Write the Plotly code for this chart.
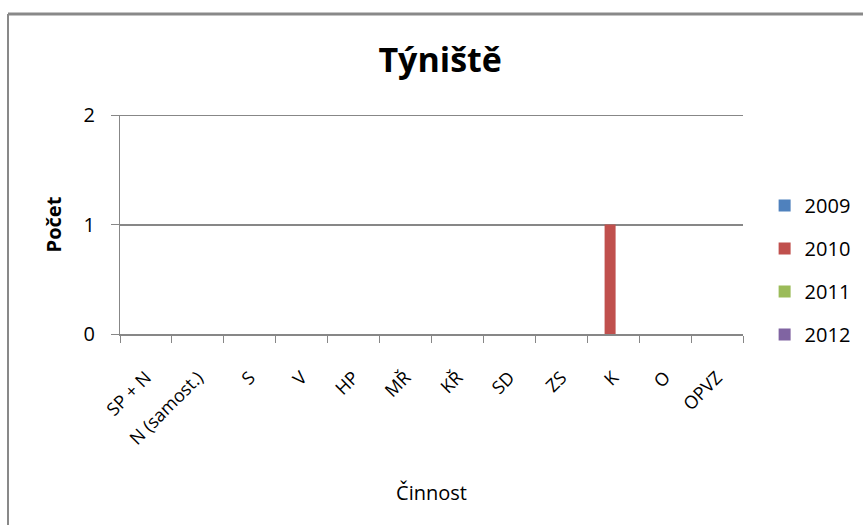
import plotly.graph_objects as go

# Activity categories (Činnost) and yearly counts
categories = ["SP + N", "N (samost.)", "S", "V", "HP", "MŘ", "KŘ", "SD", "ZS", "K", "O", "OPVZ"]
years = ["2009", "2010", "2011", "2012"]
counts_2009 = [0, 0, 0, 0, 0, 0, 0, 0, 0, 0, 0, 0]
counts_2010 = [0, 0, 0, 0, 0, 0, 0, 0, 0, 1, 0, 0]
counts_2011 = [0, 0, 0, 0, 0, 0, 0, 0, 0, 0, 0, 0]
counts_2012 = [0, 0, 0, 0, 0, 0, 0, 0, 0, 0, 0, 0]
y_ticks = [0, 1, 2]

series = [counts_2009, counts_2010, counts_2011, counts_2012]
colors = ["#4F81BD", "#C0504D", "#9BBB59", "#8064A2"]

FONT = "Open Sans, Lato, sans-serif"
GRID = "#878787"

fig = go.Figure()
bar_w = 0.212
step = 0.12
for i, (name, vals, col) in enumerate(zip(years, series, colors)):
    fig.add_trace(go.Bar(
        x=categories, y=vals, name=name,
        marker=dict(color=col, line=dict(width=0)),
        width=bar_w, offset=-0.286 + i * step,
        legendgroup=name,
    ))

fig.update_layout(
    width=863, height=525,
    margin=dict(l=120, r=120, t=115, b=191),
    paper_bgcolor="white", plot_bgcolor="white",
    font=dict(family=FONT, color="#000000"),
    title=dict(text="<b>Týniště</b>", x=0.51, xanchor="center",
               y=0.886, yanchor="middle",
               font=dict(size=34, family=FONT, color="#000000")),
    barmode="group",
    showlegend=True,
    legend=dict(xref="container", x=0.886, xanchor="left",
                y=0.292, yanchor="middle",
                font=dict(size=20, family=FONT, color="#000000"),
                traceorder="grouped", tracegroupgap=14,
                itemwidth=30, bgcolor="rgba(0,0,0,0)"),
    xaxis=dict(
        type="category", categoryorder="array", categoryarray=categories,
        range=[-0.5, len(categories) - 0.5],
        showline=True, linecolor=GRID, linewidth=2,
        showgrid=False, zeroline=False,
        ticks="outside", ticklen=7, tickwidth=1.3, tickcolor=GRID,
        tickson="boundaries",
        tickangle=-45, ticklabelstandoff=24,
        tickfont=dict(size=18, family=FONT, color="#000000"),
        title=dict(text="Činnost", standoff=38,
                   font=dict(size=20, family=FONT, color="#000000")),
        fixedrange=True,
    ),
    yaxis=dict(
        range=[0, 2], tickvals=y_ticks, ticktext=[str(v) for v in y_ticks],
        showline=True, linecolor=GRID, linewidth=1,
        showgrid=True, gridcolor=GRID, gridwidth=2,
        zeroline=False,
        ticks="outside", ticklen=8, tickwidth=1.3, tickcolor=GRID,
        ticklabelstandoff=12,
        tickfont=dict(size=20, family=FONT, color="#000000"),
        title=dict(text="<b>Počet</b>", standoff=16,
                   font=dict(size=20, family=FONT, color="#000000")),
        fixedrange=True,
    ),
    shapes=[
        # top gridline at the axis maximum
        dict(type="line", xref="paper", yref="y", x0=0, x1=1,
             y0=y_ticks[-1], y1=y_ticks[-1], layer="below",
             line=dict(color=GRID, width=2)),
        # outer frame: top and left edges
        dict(type="line", xref="paper", yref="paper",
             x0=(8 - 120) / 623, x1=(870 - 120) / 623,
             y0=1 + (115 - 14) / 219, y1=1 + (115 - 14) / 219,
             line=dict(color="#898989", width=3)),
        dict(type="line", xref="paper", yref="paper",
             x0=(8 - 120) / 623, x1=(8 - 120) / 623,
             y0=1 + (115 - 14) / 219, y1=-(530 - 334) / 219,
             line=dict(color="#898989", width=2)),
    ],
)

fig.write_html("out.html")
